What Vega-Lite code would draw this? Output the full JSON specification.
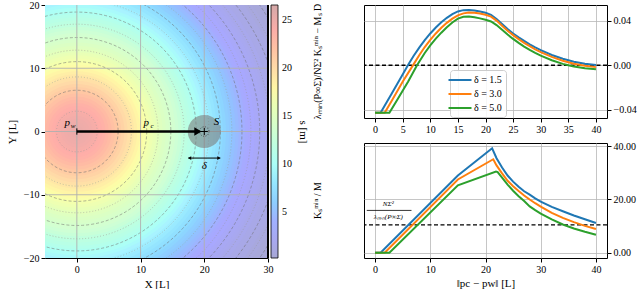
{
  "$schema": "https://vega.github.io/schema/vega-lite/v6.json",
  "background": "white",
  "padding": {"left": 6, "top": 0, "right": 2, "bottom": 0},
  "bounds": "flush",
  "spacing": 96,
  "config": {
    "font": "Liberation Serif",
    "view": {"stroke": null},
    "axis": {
      "labelFont": "Liberation Serif", "labelFontSize": 10, "labelColor": "black",
      "titleFont": "Liberation Serif", "titleFontSize": 11, "titleFontWeight": "normal", "titleColor": "black",
      "domainColor": "black", "tickColor": "black", "tickSize": 4, "labelPadding": 2,
      "labelFlush": false, "labelOverlap": false, "labelBound": false,
      "gridColor": "#b8b8b8", "gridWidth": 0.8, "gridOpacity": 1
    },
    "legend": {"labelFont": "Liberation Serif", "titleFont": "Liberation Serif", "labelColor": "black", "titleColor": "black", "titleFontWeight": "normal"},
    "title": {"font": "Liberation Serif", "fontWeight": "normal", "color": "black"}
  },
  "datasets": {
    "rings": [
      {"r": 37, "s": 0.2}, {"r": 36, "s": 0.4}, {"r": 35, "s": 0.6}, {"r": 34, "s": 0.9}, {"r": 33, "s": 1.2},
      {"r": 32, "s": 1.5}, {"r": 31, "s": 1.8}, {"r": 30, "s": 2.1}, {"r": 29.5, "s": 2.3}, {"r": 29, "s": 2.5},
      {"r": 28.5, "s": 2.7}, {"r": 28, "s": 3.0}, {"r": 27.5, "s": 3.3}, {"r": 27, "s": 3.6}, {"r": 26.5, "s": 3.9},
      {"r": 26, "s": 4.3}, {"r": 25.5, "s": 4.7}, {"r": 25, "s": 5.1}, {"r": 24.5, "s": 5.6}, {"r": 24, "s": 6.0},
      {"r": 23.5, "s": 6.5}, {"r": 23, "s": 7.0}, {"r": 22.5, "s": 7.4}, {"r": 22, "s": 7.9}, {"r": 21.5, "s": 8.3},
      {"r": 21, "s": 8.8}, {"r": 20.5, "s": 9.2}, {"r": 20, "s": 9.7}, {"r": 19.5, "s": 10.1}, {"r": 19, "s": 10.5},
      {"r": 18.5, "s": 11.0}, {"r": 18, "s": 11.4}, {"r": 17.5, "s": 11.8}, {"r": 17, "s": 12.2}, {"r": 16.5, "s": 12.7},
      {"r": 16, "s": 13.1}, {"r": 15.5, "s": 13.5}, {"r": 15, "s": 13.9}, {"r": 14.5, "s": 14.3}, {"r": 14, "s": 14.7},
      {"r": 13.5, "s": 15.1}, {"r": 13, "s": 15.6}, {"r": 12.5, "s": 16.0}, {"r": 12, "s": 16.4}, {"r": 11.5, "s": 16.8},
      {"r": 11, "s": 17.2}, {"r": 10.5, "s": 17.6}, {"r": 10, "s": 18.1}, {"r": 9.5, "s": 18.6}, {"r": 9, "s": 19.1},
      {"r": 8.5, "s": 19.6}, {"r": 8, "s": 20.1}, {"r": 7.5, "s": 20.6}, {"r": 7, "s": 21.1}, {"r": 6.5, "s": 21.6},
      {"r": 6, "s": 22.1}, {"r": 5.5, "s": 22.6}, {"r": 5, "s": 23.0}, {"r": 4.5, "s": 23.4}, {"r": 4, "s": 23.7},
      {"r": 3.5, "s": 24.0}, {"r": 3, "s": 24.3}, {"r": 2.5, "s": 24.5}, {"r": 2, "s": 24.7}, {"r": 1.5, "s": 24.9},
      {"r": 1, "s": 25.0}, {"r": 0.5, "s": 25.1}
    ],
    "dashed": [{"r": 6.5}, {"r": 11}, {"r": 14.8}, {"r": 18.8}, {"r": 22.6}, {"r": 26}, {"r": 28.8}, {"r": 32}, {"r": 35}],
    "dotted": [{"r": 3.2}, {"r": 8.6}, {"r": 12.8}, {"r": 16.9}, {"r": 20.8}, {"r": 24.4}, {"r": 27.4}, {"r": 30.4}, {"r": 33.5}],
    "gridx": [{"g": 0}, {"g": 10}, {"g": 20}],
    "gridy": [{"g": -10}, {"g": 0}, {"g": 10}],
    "spine": [{"g": 30}],
    "arrow": [{"x": 0, "x2": 18.8, "y": 0}],
    "arrowhead": [{"x": 19.0, "y": 0}],
    "origin": [{"x": 0, "y": 0}],
    "sensor": [{"x": 20, "y": 0}],
    "delta": [{"x": 17.5, "x2": 22.5, "y": -4.2}],
    "deltaL": [{"x": 17.7, "y": -4.2}],
    "deltaR": [{"x": 22.3, "y": -4.2}],
    "labels": [
      {"x": -1.5, "y": 1.3, "t": "p"},
      {"x": 10.9, "y": 1.3, "t": "p"},
      {"x": 21.9, "y": 1.5, "t": "S"},
      {"x": 20, "y": -5.5, "t": "δ"}
    ],
    "sublabels": [
      {"x": -0.6, "y": 0.8, "t": "w"},
      {"x": 11.8, "y": 0.8, "t": "c"}
    ],
    "top": [
      {"d": "δ = 1.5", "x": 0, "v": -0.0427}, {"d": "δ = 1.5", "x": 1, "v": -0.0427}, {"d": "δ = 1.5", "x": 3, "v": -0.0255},
      {"d": "δ = 1.5", "x": 5, "v": -0.0082}, {"d": "δ = 1.5", "x": 6, "v": 0.0004}, {"d": "δ = 1.5", "x": 7, "v": 0.0085},
      {"d": "δ = 1.5", "x": 8, "v": 0.0158}, {"d": "δ = 1.5", "x": 9, "v": 0.0225}, {"d": "δ = 1.5", "x": 10, "v": 0.0285},
      {"d": "δ = 1.5", "x": 11, "v": 0.0338}, {"d": "δ = 1.5", "x": 12, "v": 0.0385}, {"d": "δ = 1.5", "x": 13, "v": 0.0425},
      {"d": "δ = 1.5", "x": 14, "v": 0.0458}, {"d": "δ = 1.5", "x": 15, "v": 0.0482}, {"d": "δ = 1.5", "x": 16, "v": 0.0494},
      {"d": "δ = 1.5", "x": 17, "v": 0.0495}, {"d": "δ = 1.5", "x": 18, "v": 0.049}, {"d": "δ = 1.5", "x": 19, "v": 0.0482},
      {"d": "δ = 1.5", "x": 20, "v": 0.047}, {"d": "δ = 1.5", "x": 21, "v": 0.0452}, {"d": "δ = 1.5", "x": 22, "v": 0.0415},
      {"d": "δ = 1.5", "x": 23, "v": 0.037}, {"d": "δ = 1.5", "x": 24, "v": 0.0325}, {"d": "δ = 1.5", "x": 25, "v": 0.0285},
      {"d": "δ = 1.5", "x": 26, "v": 0.025}, {"d": "δ = 1.5", "x": 27, "v": 0.0218}, {"d": "δ = 1.5", "x": 28, "v": 0.0188},
      {"d": "δ = 1.5", "x": 29, "v": 0.016}, {"d": "δ = 1.5", "x": 30, "v": 0.0135}, {"d": "δ = 1.5", "x": 32, "v": 0.0092},
      {"d": "δ = 1.5", "x": 34, "v": 0.0058}, {"d": "δ = 1.5", "x": 36, "v": 0.0032}, {"d": "δ = 1.5", "x": 38, "v": 0.0014},
      {"d": "δ = 1.5", "x": 40, "v": 0.0002},
      {"d": "δ = 3.0", "x": 0, "v": -0.0427}, {"d": "δ = 3.0", "x": 1.75, "v": -0.0427}, {"d": "δ = 3.0", "x": 3, "v": -0.032},
      {"d": "δ = 3.0", "x": 5, "v": -0.0148}, {"d": "δ = 3.0", "x": 7, "v": 0.001}, {"d": "δ = 3.0", "x": 8, "v": 0.009},
      {"d": "δ = 3.0", "x": 9, "v": 0.0163}, {"d": "δ = 3.0", "x": 10, "v": 0.0228}, {"d": "δ = 3.0", "x": 11, "v": 0.0285},
      {"d": "δ = 3.0", "x": 12, "v": 0.0336}, {"d": "δ = 3.0", "x": 13, "v": 0.038}, {"d": "δ = 3.0", "x": 14, "v": 0.0418},
      {"d": "δ = 3.0", "x": 15, "v": 0.0447}, {"d": "δ = 3.0", "x": 16, "v": 0.0465}, {"d": "δ = 3.0", "x": 17, "v": 0.0472},
      {"d": "δ = 3.0", "x": 18, "v": 0.047}, {"d": "δ = 3.0", "x": 19, "v": 0.0463}, {"d": "δ = 3.0", "x": 20, "v": 0.0452},
      {"d": "δ = 3.0", "x": 21, "v": 0.0436}, {"d": "δ = 3.0", "x": 22, "v": 0.04}, {"d": "δ = 3.0", "x": 23, "v": 0.0355},
      {"d": "δ = 3.0", "x": 24, "v": 0.031}, {"d": "δ = 3.0", "x": 25, "v": 0.027}, {"d": "δ = 3.0", "x": 26, "v": 0.0234},
      {"d": "δ = 3.0", "x": 27, "v": 0.0201}, {"d": "δ = 3.0", "x": 28, "v": 0.0171}, {"d": "δ = 3.0", "x": 29, "v": 0.0143},
      {"d": "δ = 3.0", "x": 30, "v": 0.0118}, {"d": "δ = 3.0", "x": 32, "v": 0.0075}, {"d": "δ = 3.0", "x": 34, "v": 0.004},
      {"d": "δ = 3.0", "x": 36, "v": 0.0014}, {"d": "δ = 3.0", "x": 38, "v": -0.0004}, {"d": "δ = 3.0", "x": 40, "v": -0.0017},
      {"d": "δ = 5.0", "x": 0, "v": -0.0427}, {"d": "δ = 5.0", "x": 2.6, "v": -0.0427}, {"d": "δ = 5.0", "x": 4, "v": -0.0312},
      {"d": "δ = 5.0", "x": 6, "v": -0.0145}, {"d": "δ = 5.0", "x": 7.6, "v": 0.0}, {"d": "δ = 5.0", "x": 9, "v": 0.011},
      {"d": "δ = 5.0", "x": 10, "v": 0.0178}, {"d": "δ = 5.0", "x": 11, "v": 0.0238}, {"d": "δ = 5.0", "x": 12, "v": 0.0292},
      {"d": "δ = 5.0", "x": 13, "v": 0.034}, {"d": "δ = 5.0", "x": 14, "v": 0.0383}, {"d": "δ = 5.0", "x": 15, "v": 0.0418},
      {"d": "δ = 5.0", "x": 16, "v": 0.0435}, {"d": "δ = 5.0", "x": 17, "v": 0.0436}, {"d": "δ = 5.0", "x": 18, "v": 0.043},
      {"d": "δ = 5.0", "x": 19, "v": 0.042}, {"d": "δ = 5.0", "x": 20, "v": 0.0408}, {"d": "δ = 5.0", "x": 21, "v": 0.0392},
      {"d": "δ = 5.0", "x": 22, "v": 0.036}, {"d": "δ = 5.0", "x": 23, "v": 0.0318}, {"d": "δ = 5.0", "x": 24, "v": 0.0275},
      {"d": "δ = 5.0", "x": 25, "v": 0.0236}, {"d": "δ = 5.0", "x": 26, "v": 0.02}, {"d": "δ = 5.0", "x": 27, "v": 0.0167},
      {"d": "δ = 5.0", "x": 28, "v": 0.0137}, {"d": "δ = 5.0", "x": 29, "v": 0.011}, {"d": "δ = 5.0", "x": 30, "v": 0.0086},
      {"d": "δ = 5.0", "x": 32, "v": 0.0045}, {"d": "δ = 5.0", "x": 34, "v": 0.0012}, {"d": "δ = 5.0", "x": 35, "v": 0.0},
      {"d": "δ = 5.0", "x": 36, "v": -0.0012}, {"d": "δ = 5.0", "x": 38, "v": -0.0028}, {"d": "δ = 5.0", "x": 40, "v": -0.0037}
    ],
    "bottom": [
      {"d": "δ = 1.5", "x": 0, "v": 0}, {"d": "δ = 1.5", "x": 1, "v": 0}, {"d": "δ = 1.5", "x": 15, "v": 29.0},
      {"d": "δ = 1.5", "x": 21.2, "v": 39.2}, {"d": "δ = 1.5", "x": 22, "v": 35.5}, {"d": "δ = 1.5", "x": 23, "v": 32.0},
      {"d": "δ = 1.5", "x": 24, "v": 29.0}, {"d": "δ = 1.5", "x": 25, "v": 26.7}, {"d": "δ = 1.5", "x": 26, "v": 24.8},
      {"d": "δ = 1.5", "x": 27, "v": 23.1}, {"d": "δ = 1.5", "x": 28, "v": 21.8}, {"d": "δ = 1.5", "x": 29, "v": 20.4},
      {"d": "δ = 1.5", "x": 30, "v": 19.2}, {"d": "δ = 1.5", "x": 32, "v": 17.2}, {"d": "δ = 1.5", "x": 34, "v": 15.6},
      {"d": "δ = 1.5", "x": 36, "v": 14.0}, {"d": "δ = 1.5", "x": 38, "v": 12.6}, {"d": "δ = 1.5", "x": 40, "v": 11.2},
      {"d": "δ = 3.0", "x": 0, "v": 0}, {"d": "δ = 3.0", "x": 1.75, "v": 0}, {"d": "δ = 3.0", "x": 15, "v": 27.5},
      {"d": "δ = 3.0", "x": 21.4, "v": 35.1}, {"d": "δ = 3.0", "x": 22, "v": 32.8}, {"d": "δ = 3.0", "x": 23, "v": 29.8},
      {"d": "δ = 3.0", "x": 24, "v": 27.0}, {"d": "δ = 3.0", "x": 25, "v": 25.0}, {"d": "δ = 3.0", "x": 26, "v": 23.2},
      {"d": "δ = 3.0", "x": 27, "v": 21.5}, {"d": "δ = 3.0", "x": 28, "v": 20.0}, {"d": "δ = 3.0", "x": 29, "v": 18.6},
      {"d": "δ = 3.0", "x": 30, "v": 17.3}, {"d": "δ = 3.0", "x": 32, "v": 15.0}, {"d": "δ = 3.0", "x": 34, "v": 13.1},
      {"d": "δ = 3.0", "x": 36, "v": 11.5}, {"d": "δ = 3.0", "x": 38, "v": 10.1}, {"d": "δ = 3.0", "x": 40, "v": 8.9},
      {"d": "δ = 5.0", "x": 0, "v": 0}, {"d": "δ = 5.0", "x": 2.6, "v": 0}, {"d": "δ = 5.0", "x": 15, "v": 25.3},
      {"d": "δ = 5.0", "x": 21.9, "v": 30.5}, {"d": "δ = 5.0", "x": 22.2, "v": 30.3}, {"d": "δ = 5.0", "x": 23, "v": 28.2},
      {"d": "δ = 5.0", "x": 24, "v": 25.6}, {"d": "δ = 5.0", "x": 25, "v": 23.3}, {"d": "δ = 5.0", "x": 26, "v": 21.2},
      {"d": "δ = 5.0", "x": 27, "v": 19.4}, {"d": "δ = 5.0", "x": 28, "v": 17.4}, {"d": "δ = 5.0", "x": 29, "v": 16.0},
      {"d": "δ = 5.0", "x": 30, "v": 14.7}, {"d": "δ = 5.0", "x": 32, "v": 12.5}, {"d": "δ = 5.0", "x": 34, "v": 10.6},
      {"d": "δ = 5.0", "x": 36, "v": 9.1}, {"d": "δ = 5.0", "x": 38, "v": 7.9}, {"d": "δ = 5.0", "x": 40, "v": 6.8}
    ],
    "zeroLine": [{"v": 0}],
    "threshold": [{"v": 10.5}],
    "fracTop": [{"x": 2.4, "v": 18.2, "t": "NΣ²"}],
    "fracBar": [{"x": -1.5, "x2": 6.6, "v": 15.9}],
    "fracBot": [{"x": 2.4, "v": 13.3, "t": "λₘᵢₙ(P∞Σ)"}]
  },
  "resolve": {
    "scale": {"fill": "independent", "color": "independent", "stroke": "independent", "strokeWidth": "independent", "size": "independent"},
    "legend": {"fill": "independent", "color": "independent", "stroke": "independent", "strokeWidth": "independent", "size": "independent"}
  },
  "hconcat": [
    {
      "width": 223,
      "height": 253,
      "layer": [
        {
          "data": {"name": "rings"},
          "mark": {"type": "point", "filled": true, "shape": "circle", "opacity": 1, "strokeWidth": 0, "clip": true},
          "encoding": {
            "x": {"datum": 0, "type": "quantitative", "scale": {"domain": [-5, 30], "nice": false, "zero": false},
              "axis": {"values": [0, 10, 20, 30], "grid": false, "title": "X [L]", "titlePadding": 4}},
            "y": {"datum": 0, "type": "quantitative", "scale": {"domain": [-20, 20], "nice": false, "zero": false},
              "axis": {"values": [-20, -10, 0, 10, 20], "grid": false, "title": "Y [L]", "titlePadding": 6}},
            "size": {"field": "r", "type": "quantitative", "scale": {"type": "pow", "exponent": 2, "domain": [0, 37], "range": [0, 220806]}, "legend": null},
            "fill": {"field": "s", "type": "quantitative",
              "scale": {"domain": [0.2, 3.1, 3.5, 9.2, 10.1, 13.4, 17.4, 20, 23.7, 26.6],
                "range": ["#a8a8d4", "#a8a8ff", "#a8a8ff", "#a8f3ff", "#acfff6", "#d2ffd2", "#fcffa8", "#ffdba8", "#ffaea8", "#d4a8a8"]},
              "legend": {"orient": "right", "offset": 3, "gradientLength": 253, "gradientThickness": 7, "values": [5, 10, 15, 20, 25],
                "title": "s [m]", "titleOrient": "right", "titleAngle": 270, "titleAnchor": "middle", "titleFontSize": 11, "titlePadding": 6,
                "labelFontSize": 10, "labelOffset": 4, "gradientStrokeColor": "black", "gradientStrokeWidth": 0.8, "padding": 0}},
            "order": {"field": "r", "type": "quantitative", "sort": "descending"}
          }
        },
        {
          "data": {"name": "dotted"},
          "mark": {"type": "point", "filled": false, "shape": "circle", "opacity": 0.8, "color": "#999999", "strokeWidth": 0.7, "strokeDash": [1, 2], "clip": true},
          "encoding": {
            "x": {"datum": 0, "type": "quantitative"},
            "y": {"datum": 0, "type": "quantitative"},
            "size": {"field": "r", "type": "quantitative", "scale": {"type": "pow", "exponent": 2, "domain": [0, 37], "range": [0, 220806]}, "legend": null}
          }
        },
        {
          "data": {"name": "dashed"},
          "mark": {"type": "point", "filled": false, "shape": "circle", "opacity": 0.75, "color": "#707070", "strokeWidth": 0.7, "strokeDash": [3, 2], "clip": true},
          "encoding": {
            "x": {"datum": 0, "type": "quantitative"},
            "y": {"datum": 0, "type": "quantitative"},
            "size": {"field": "r", "type": "quantitative", "scale": {"type": "pow", "exponent": 2, "domain": [0, 37], "range": [0, 220806]}, "legend": null}
          }
        },
        {
          "data": {"name": "gridx"},
          "mark": {"type": "rule", "color": "#b0b0b0", "strokeWidth": 0.9},
          "encoding": {"x": {"field": "g", "type": "quantitative"}}
        },
        {
          "data": {"name": "gridy"},
          "mark": {"type": "rule", "color": "#b0b0b0", "strokeWidth": 0.9},
          "encoding": {"y": {"field": "g", "type": "quantitative"}}
        },
        {
          "data": {"name": "spine"},
          "mark": {"type": "rule", "color": "black", "strokeWidth": 2},
          "encoding": {"x": {"field": "g", "type": "quantitative"}}
        },
        {
          "data": {"name": "sensor"},
          "mark": {"type": "point", "filled": true, "shape": "circle", "size": 1100, "color": "#7d7d7d", "opacity": 0.6},
          "encoding": {"x": {"field": "x", "type": "quantitative"}, "y": {"field": "y", "type": "quantitative"}}
        },
        {
          "data": {"name": "sensor"},
          "mark": {"type": "point", "filled": false, "shape": "circle", "size": 90, "color": "#333333", "opacity": 1, "strokeWidth": 0.8, "strokeDash": [1, 1.5]},
          "encoding": {"x": {"field": "x", "type": "quantitative"}, "y": {"field": "y", "type": "quantitative"}}
        },
        {
          "data": {"name": "sensor"},
          "mark": {"type": "point", "filled": false, "shape": "M-1,0L1,0M0,-1L0,1", "size": 50, "color": "black", "opacity": 1, "strokeWidth": 1},
          "encoding": {"x": {"field": "x", "type": "quantitative"}, "y": {"field": "y", "type": "quantitative"}}
        },
        {
          "data": {"name": "arrow"},
          "mark": {"type": "rule", "color": "black", "strokeWidth": 2.5},
          "encoding": {"x": {"field": "x", "type": "quantitative"}, "x2": {"field": "x2"}, "y": {"field": "y", "type": "quantitative"}}
        },
        {
          "data": {"name": "arrowhead"},
          "mark": {"type": "point", "filled": true, "shape": "triangle-right", "size": 70, "color": "black", "opacity": 1},
          "encoding": {"x": {"field": "x", "type": "quantitative"}, "y": {"field": "y", "type": "quantitative"}}
        },
        {
          "data": {"name": "origin"},
          "mark": {"type": "point", "filled": false, "shape": "M0,-1L0,1", "size": 40, "color": "black", "opacity": 1, "strokeWidth": 1},
          "encoding": {"x": {"field": "x", "type": "quantitative"}, "y": {"field": "y", "type": "quantitative"}}
        },
        {
          "data": {"name": "delta"},
          "mark": {"type": "rule", "color": "black", "strokeWidth": 1},
          "encoding": {"x": {"field": "x", "type": "quantitative"}, "x2": {"field": "x2"}, "y": {"field": "y", "type": "quantitative"}}
        },
        {
          "data": {"name": "deltaL"},
          "mark": {"type": "point", "filled": true, "shape": "triangle-left", "size": 14, "color": "black", "opacity": 1},
          "encoding": {"x": {"field": "x", "type": "quantitative"}, "y": {"field": "y", "type": "quantitative"}}
        },
        {
          "data": {"name": "deltaR"},
          "mark": {"type": "point", "filled": true, "shape": "triangle-right", "size": 14, "color": "black", "opacity": 1},
          "encoding": {"x": {"field": "x", "type": "quantitative"}, "y": {"field": "y", "type": "quantitative"}}
        },
        {
          "data": {"name": "labels"},
          "mark": {"type": "text", "font": "Liberation Serif", "fontStyle": "italic", "fontSize": 11, "color": "black"},
          "encoding": {"x": {"field": "x", "type": "quantitative"}, "y": {"field": "y", "type": "quantitative"}, "text": {"field": "t"}}
        },
        {
          "data": {"name": "sublabels"},
          "mark": {"type": "text", "font": "Liberation Serif", "fontStyle": "italic", "fontSize": 7, "color": "black"},
          "encoding": {"x": {"field": "x", "type": "quantitative"}, "y": {"field": "y", "type": "quantitative"}, "text": {"field": "t"}}
        }
      ]
    },
    {
      "bounds": "flush",
      "spacing": 25,
      "resolve": {
        "scale": {"color": "independent", "stroke": "independent", "strokeWidth": "independent"},
        "legend": {"color": "independent", "stroke": "independent", "strokeWidth": "independent"}
      },
      "vconcat": [
        {
          "width": 243,
          "height": 113,
          "view": {"stroke": "black", "strokeWidth": 1},
          "title": {"text": "λₘᵢₙ(P∞Σ)/NΣ²  Kₛᵐⁱⁿ − Mₛ D", "orient": "left", "anchor": "middle", "offset": 40, "fontSize": 10},
          "layer": [
            {
              "data": {"name": "zeroLine"},
              "mark": {"type": "rule", "color": "black", "strokeWidth": 1.3, "strokeDash": [4, 2.5]},
              "encoding": {"y": {"field": "v", "type": "quantitative", "scale": {"domain": [-0.0473, 0.054], "nice": false, "zero": false}}}
            },
            {
              "data": {"name": "top"},
              "mark": {"type": "line", "clip": true},
              "encoding": {
                "x": {"field": "x", "type": "quantitative", "scale": {"domain": [-2, 42], "nice": false, "zero": false},
                  "axis": {"values": [0, 5, 10, 15, 20, 25, 30, 35, 40], "grid": true, "title": null, "domain": false}},
                "y": {"field": "v", "type": "quantitative", "scale": {"domain": [-0.0473, 0.054], "nice": false, "zero": false},
                  "axis": {"orient": "right", "values": [-0.04, -0.02, 0, 0.02, 0.04], "format": ".2f", "grid": true, "title": null, "domain": false}},
                "color": {"field": "d", "type": "nominal", "title": null,
                  "scale": {"domain": ["δ = 1.5", "δ = 3.0", "δ = 5.0"], "range": ["#1f77b4", "#ff7f0e", "#2ca02c"]},
                  "legend": {"orient": "none", "legendX": 86, "legendY": 65, "symbolType": "M-2.3,0L2.3,0", "symbolSize": 100, "symbolStrokeWidth": 2,
                    "symbolFillColor": "transparent",
                    "labelFontSize": 10, "labelOffset": 8, "fillColor": "rgba(255,255,255,0.85)", "strokeColor": "#cccccc", "cornerRadius": 3,
                    "padding": 4, "rowPadding": 3}},
                "strokeWidth": {"field": "d", "type": "nominal", "title": null,
                  "scale": {"domain": ["δ = 1.5", "δ = 3.0", "δ = 5.0"], "range": [2, 2, 1.3]}, "legend": null}
              }
            }
          ]
        },
        {
          "width": 243,
          "height": 115,
          "view": {"stroke": "black", "strokeWidth": 1},
          "title": {"text": "Kₛᵐⁱⁿ / M", "orient": "left", "anchor": "middle", "offset": 40, "fontSize": 10},
          "layer": [
            {
              "data": {"name": "threshold"},
              "mark": {"type": "rule", "color": "black", "strokeWidth": 1.3, "strokeDash": [4, 2.5]},
              "encoding": {"y": {"field": "v", "type": "quantitative", "scale": {"domain": [-1.96, 41.2], "nice": false, "zero": false}}}
            },
            {
              "data": {"name": "bottom"},
              "mark": {"type": "line", "clip": true},
              "encoding": {
                "x": {"field": "x", "type": "quantitative", "scale": {"domain": [-2, 42], "nice": false, "zero": false},
                  "axis": {"values": [0, 5, 10, 15, 20, 25, 30, 35, 40], "grid": true, "title": "‖pc − pw‖ [L]", "titlePadding": 3, "domain": false}},
                "y": {"field": "v", "type": "quantitative", "scale": {"domain": [-1.96, 41.2], "nice": false, "zero": false},
                  "axis": {"orient": "right", "values": [0, 10, 20, 30, 40], "format": ".2f", "grid": true, "title": null, "domain": false}},
                "color": {"field": "d", "type": "nominal",
                  "scale": {"domain": ["δ = 1.5", "δ = 3.0", "δ = 5.0"], "range": ["#1f77b4", "#ff7f0e", "#2ca02c"]}, "legend": null},
                "strokeWidth": {"field": "d", "type": "nominal",
                  "scale": {"domain": ["δ = 1.5", "δ = 3.0", "δ = 5.0"], "range": [2, 2, 1.3]}, "legend": null}
              }
            },
            {
              "data": {"name": "fracTop"},
              "mark": {"type": "text", "fontSize": 7, "font": "Liberation Serif", "fontStyle": "italic", "color": "black"},
              "encoding": {"x": {"field": "x", "type": "quantitative"}, "y": {"field": "v", "type": "quantitative"}, "text": {"field": "t"}}
            },
            {
              "data": {"name": "fracBar"},
              "mark": {"type": "rule", "color": "black", "strokeWidth": 0.8},
              "encoding": {"x": {"field": "x", "type": "quantitative"}, "x2": {"field": "x2"}, "y": {"field": "v", "type": "quantitative"}}
            },
            {
              "data": {"name": "fracBot"},
              "mark": {"type": "text", "fontSize": 7, "font": "Liberation Serif", "fontStyle": "italic", "color": "black"},
              "encoding": {"x": {"field": "x", "type": "quantitative"}, "y": {"field": "v", "type": "quantitative"}, "text": {"field": "t"}}
            }
          ]
        }
      ]
    }
  ]
}
